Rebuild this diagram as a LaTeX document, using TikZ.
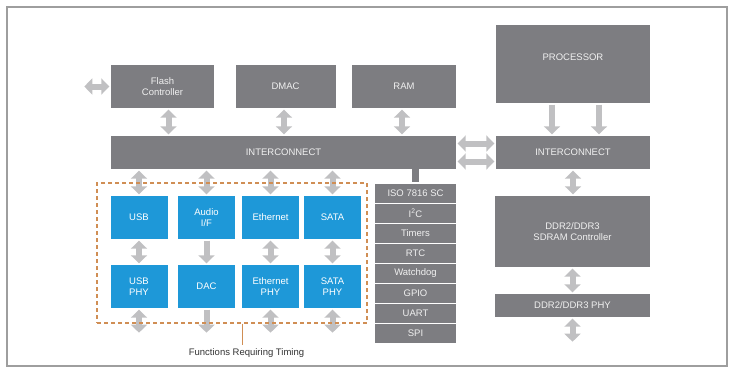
\documentclass[tikz,border=0pt]{standalone}
\usepackage{fontspec}
\setmainfont{Liberation Sans}
\usepackage{tikz}
\usetikzlibrary{arrows.meta}
\definecolor{boxgray}{RGB}{125,125,129}
\definecolor{blockblue}{RGB}{30,152,216}
\definecolor{arrowgray}{RGB}{192,192,194}
\definecolor{timingorange}{RGB}{208,142,84}
\definecolor{framegray}{RGB}{158,158,158}
\definecolor{labeltext}{RGB}{240,240,240}
\tikzset{
  block/.style={fill=boxgray, text=labeltext, inner sep=2pt,
                align=center, font=\fontsize{9.5}{11}\selectfont},
  blockb/.style={block, fill=blockblue, text=white,
                 minimum width=57pt, minimum height=43pt},
  periph/.style={block, draw=white, line width=1.2pt,
                 minimum width=83pt, minimum height=20pt},
  dbl/.style={{Triangle[width=16pt,length=8pt]}-{Triangle[width=16pt,length=8pt]},
              draw=arrowgray, line width=6pt,
              shorten <=1.5pt, shorten >=1.5pt},
  sgl/.style={-{Triangle[width=16pt,length=8pt]},
              draw=arrowgray, line width=6pt,
              shorten <=1.5pt, shorten >=1.5pt},
  timingbox/.style={draw=timingorange, line width=1.2pt,
                    dash pattern=on 4pt off 3pt,
                    minimum width=270pt, minimum height=140pt},
  callout/.style={draw=timingorange, line width=0.9pt},
  note/.style={text=black!80, font=\fontsize{9.5}{11}\selectfont},
}
\begin{document}
\begin{tikzpicture}[x=1pt,y=-1pt]
  \useasboundingbox (0,0) rectangle (731,370);
  \draw[framegray, line width=1.2pt] (7,7) rectangle (727,366);

  % Left bus with its masters.
  \node[block, minimum width=103pt, minimum height=43pt] (flash) at (162.5,86.5)
    {Flash\\Controller};
  \node[block, minimum width=100pt, minimum height=43pt] (dmac) at (285.5,86.5) {DMAC};
  \node[block, minimum width=104pt, minimum height=43pt] (ram) at (404,86.5) {RAM};
  \node[block, minimum width=345pt, minimum height=33pt] (icl) at (283.5,152.5)
    {INTERCONNECT};

  \draw[dbl] (flash.west) -- ++(-28,0);
  \draw[dbl] ([xshift=6pt]flash.south) -- ([xshift=6pt]flash.south |- icl.north);
  \draw[dbl] ([xshift=-1.5pt]dmac.south) -- ([xshift=-1.5pt]dmac.south |- icl.north);
  \draw[dbl] ([xshift=-2pt]ram.south) -- ([xshift=-2pt]ram.south |- icl.north);

  % Processor side.
  \node[block, minimum width=154pt, minimum height=78pt] (proc) at (573,64) {};
  \node[block, fill=none] (proctext) at ([yshift=7pt]proc.center) {PROCESSOR};
  \node[block, minimum width=154pt, minimum height=33pt] (icr) at (573,152.5)
    {INTERCONNECT};
  \node[block, minimum width=155pt, minimum height=71pt] (ddr) at (572.5,231.5)
    {DDR2/DDR3\\SDRAM Controller};
  \node[block, minimum width=155pt, minimum height=23pt] (ddrphy) at (572.5,305.5)
    {DDR2/DDR3 PHY};

  \draw[sgl] ([xshift=-21pt]proc.south) -- ([xshift=-21pt]proc.south |- icr.north);
  \draw[sgl] ([xshift=26pt]proc.south) -- ([xshift=26pt]proc.south |- icr.north);
  \draw[dbl] ([yshift=9pt]icl.east) -- ([yshift=9pt]icr.west);
  \draw[dbl] ([yshift=-9pt]icl.east) -- ([yshift=-9pt]icr.west);
  \draw[dbl] (icr.south) -- (icr.south |- ddr.north);
  \draw[dbl] (ddr.south) -- (ddr.south |- ddrphy.north);
  \draw[dbl] (ddrphy.south) -- ++(0,26);

  % Peripheral stack.
  \foreach \i/\name/\txt in {0/iso/ISO 7816 SC, 1/iic/I\textsuperscript{2}C,
      2/timers/Timers, 3/rtc/RTC, 4/wdog/Watchdog, 5/gpio/GPIO,
      6/uart/UART, 7/spi/SPI}{
    \node[periph] (\name) at (415.5,{193.3+20*\i}) {\txt};
  }
  \draw[boxgray, line width=7pt] (iso.north |- icl.south) -- ([yshift=0.6pt]iso.north);

  % Functions requiring timing.
  \foreach \name/\xx/\top/\bot in {usb/139/USB/{USB\\PHY}, audio/206.5/{Audio\\I{/}F}/DAC,
      eth/270.5/Ethernet/{Ethernet\\PHY}, sata/332.5/SATA/{SATA\\PHY}}{
    \node[blockb] (\name) at (\xx,217.5) {\top};
    \node[blockb] (\name phy) at (\xx,286.5) {\bot};
    \draw[dbl] (\name.north |- icl.south) -- (\name.north);
  }
  \draw[dbl] (usb.south) -- (usbphy.north);
  \draw[sgl] (audio.south) -- (audiophy.north);
  \draw[dbl] (eth.south) -- (ethphy.north);
  \draw[dbl] (sata.south) -- (sataphy.north);
  \draw[dbl] (usbphy.south) -- ++(0,26);
  \draw[sgl] (audiophy.south) -- ++(0,26);
  \draw[dbl] (ethphy.south) -- ++(0,26);
  \draw[dbl] (sataphy.south) -- ++(0,26);

  \node[timingbox] (timing) at (232,253) {};
  \node[note] (timinglab) at (246.5,353) {Functions Requiring Timing};
  \draw[callout] ([xshift=10pt]timing.south) -- ([xshift=10pt]timing.south |- timinglab.north);
\end{tikzpicture}
\end{document}
